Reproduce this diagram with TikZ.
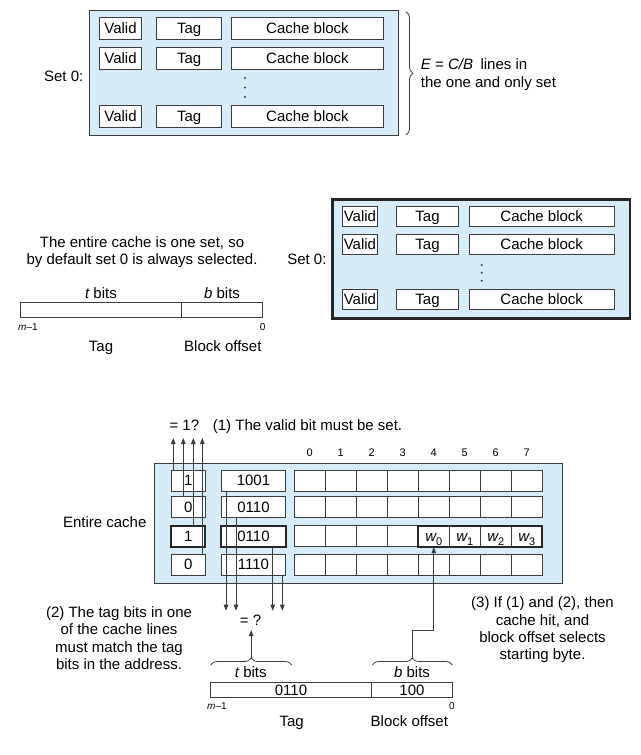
\documentclass[tikz,border=0pt]{standalone}
\usepackage{fontspec}
\setmainfont{Liberation Sans}
\usetikzlibrary{arrows.meta,decorations.pathreplacing}
\definecolor{cachebg}{RGB}{214,236,249}
\definecolor{linec}{RGB}{60,60,60}
\begin{document}
\begin{tikzpicture}[x=1bp,y=-1bp,
  txt/.style={font=\fontsize{15bp}{17.4bp}\selectfont, inner sep=0pt},
  lbl/.style={txt, text height=10.7bp, text depth=0pt},
  smalltxt/.style={font=\fontsize{10bp}{12bp}\selectfont, inner sep=0pt, text height=7.2bp, text depth=0pt},
  coltxt/.style={font=\fontsize{11bp}{13bp}\selectfont, inner sep=0pt, text height=7.9bp, text depth=0pt},
  cellbox/.style={draw=linec, line width=0.9bp, fill=white, inner sep=0pt,
    font=\fontsize{15bp}{17bp}\selectfont, text height=10.7bp, text depth=0pt},
  thickbox/.style={cellbox, line width=2bp, draw=black!85},
  panel/.style={fill=cachebg, draw=linec, line width=1bp, inner sep=0pt},
  arr/.style={draw=linec, line width=0.9bp, -{Triangle[length=6bp,width=4.5bp]}},
  bracestyle/.style={draw=linec, line width=0.8bp, decorate, decoration={brace, amplitude=7bp}},
  dotmark/.style={circle, fill=linec, inner sep=0pt, minimum size=2.2bp},
]
\useasboundingbox (0,0) rectangle (641,755);

% ================= Top panel =================
\node[panel, minimum width=308bp, minimum height=124bp] (topset) at (244,73) {};
\foreach \r/\y in {1/28.5,2/58.5,3/116.5}{
  \node[cellbox, minimum width=42.4bp, minimum height=21.6bp] (tv\r) at (120.5,\y) {Valid};
  \node[cellbox, minimum width=65bp, minimum height=21.6bp] (tg\r) at (189.2,\y) {Tag};
  \node[cellbox, minimum width=151.6bp, minimum height=21.6bp] (tc\r) at (307.5,\y) {Cache block};
}
\node[dotmark] (tdot1) at (245,78) {};
\node[dotmark] (tdot2) at (245,87.5) {};
\node[dotmark] (tdot3) at (245,97) {};
\node[lbl, anchor=east] (tset) at (83.5,76) {Set 0:};
\draw[bracestyle] (406,11.7) -- (406,135);
\node[txt, anchor=west, align=left] (etext) at (420.7,74.5)
  {{\itshape E} = {\itshape C/B}\enspace lines in\\the one and only set};

% ================= Middle panel =================
\node[txt, align=center] (entire) at (142,252) {The entire cache is one set, so\\by default set 0 is always selected.};
\node[lbl] (tbits1) at (101,292.7) {{\itshape t} bits};
\node[lbl] (bbits1) at (222,292.7) {{\itshape b} bits};
\node[draw=linec, line width=0.8bp, minimum width=161bp, minimum height=15bp, inner sep=0pt] (atag1) at (101.2,310.2) {};
\node[draw=linec, line width=0.8bp, minimum width=80.6bp, minimum height=15bp, inner sep=0pt] (aoff1) at (222,310.2) {};
\node[smalltxt, anchor=west] (mone1) at (18,326.7) {{\itshape m}--1};
\node[smalltxt] (zero1) at (262.7,326.7) {0};
\node[lbl] (tagl1) at (101,345.7) {Tag};
\node[lbl] (offl1) at (222.8,345.7) {Block offset};
\node[lbl, anchor=east] (mset) at (326.7,259.3) {Set 0:};
\node[panel, draw=black!85, line width=2.5bp, minimum width=297.7bp, minimum height=119bp] (midset) at (481.2,258.8) {};
\foreach \r/\y in {1/216,2/244.3,3/299.3}{
  \node[cellbox, minimum width=35.7bp, minimum height=20bp] (mv\r) at (359.9,\y) {Valid};
  \node[cellbox, minimum width=61.6bp, minimum height=20bp] (mg\r) at (427.5,\y) {Tag};
  \node[cellbox, minimum width=145.3bp, minimum height=20bp] (mc\r) at (541.7,\y) {Cache block};
}
\node[dotmark] (mdot1) at (481.7,265) {};
\node[dotmark] (mdot2) at (481.7,272.7) {};
\node[dotmark] (mdot3) at (481.7,280.7) {};

% ================= Bottom panel =================
\node[lbl, anchor=west] (eq1) at (169.3,425) {= 1?};
\node[lbl, anchor=west] (step1) at (212.7,425) {(1) The valid bit must be set.};
\foreach \i in {0,...,7}{
  \node[coltxt] (col\i) at ({309.8+31*\i},453) {\i};
}
\node[panel, minimum width=408bp, minimum height=119.8bp] (bigset) at (358.3,523.4) {};
\node[lbl] (entcache) at (104.7,522) {Entire cache};
\foreach \r/\y/\v/\t in {1/480.5/1/1001,2/507.2/0/0110,4/564.5/0/1110}{
  \node[cellbox, minimum width=34.3bp, minimum height=21bp] (v\r) at (188.2,\y) {\v};
  \node[cellbox, minimum width=64.4bp, minimum height=21bp] (t\r) at (253.5,\y) {\t};
}
\node[thickbox, minimum width=34.3bp, minimum height=21bp] (v3) at (188.2,536.2) {1};
\node[thickbox, minimum width=64.4bp, minimum height=21bp] (t3) at (253.5,536.2) {0110};
\foreach \r/\y in {1/480.5,2/507.2,3/536.2,4/564.5}{
  \foreach \i in {0,...,7}{
    \node[cellbox, minimum width=31bp, minimum height=21bp] (c\r\i) at ({309.8+31*\i},\y) {};
  }
}
\node[cellbox, minimum width=31bp, minimum height=21bp] (w0) at (433.8,536.2) {{\itshape w}\raisebox{-3.5bp}{\fontsize{11bp}{11bp}\selectfont 0}};
\node[cellbox, minimum width=31bp, minimum height=21bp] (w1) at (464.8,536.2) {{\itshape w}\raisebox{-3.5bp}{\fontsize{11bp}{11bp}\selectfont 1}};
\node[cellbox, minimum width=31bp, minimum height=21bp] (w2) at (495.8,536.2) {{\itshape w}\raisebox{-3.5bp}{\fontsize{11bp}{11bp}\selectfont 2}};
\node[cellbox, minimum width=31bp, minimum height=21bp] (w3) at (526.8,536.2) {{\itshape w}\raisebox{-3.5bp}{\fontsize{11bp}{11bp}\selectfont 3}};
\node[draw=black!85, line width=2bp, minimum width=124bp, minimum height=21bp, inner sep=0pt] (wgroup) at (480.3,536.2) {};

% valid-bit arrows
\coordinate (vt1) at (173.3,438);
\coordinate (vt2) at (183.3,438);
\coordinate (vt3) at (193.3,438);
\coordinate (vt4) at (202.3,438);
\foreach \r in {1,...,4}{
  \draw[arr] (v\r.north -| vt\r) -- (vt\r);
}
% tag arrows
\coordinate (tt1) at (226,610.7);
\coordinate (tt2) at (236,610.7);
\coordinate (tt3) at (272.7,610.7);
\coordinate (tt4) at (282.3,610.7);
\foreach \r in {1,...,4}{
  \draw[arr] (t\r.south -| tt\r) -- (tt\r);
}
\node[lbl] (eqq) at (250.5,620) {= ?};

% address
\draw[bracestyle] (210.7,665) -- (291.7,665);
\draw[bracestyle] (372.3,665) -- (452.3,665);
\coordinate (tbtip) at (251.2,658);
\coordinate (eqqtip) at (251.2,630);
\draw[arr] (tbtip) -- (eqqtip);
\coordinate (bbtip) at (412.3,658);
\coordinate (bend) at (412.3,630);
\draw[arr] (bbtip) -- (bend) -| (w0.south);
\node[lbl] (tbits2) at (250.8,671.7) {{\itshape t} bits};
\node[lbl] (bbits2) at (412,671.7) {{\itshape b} bits};
\node[draw=linec, line width=0.8bp, minimum width=161.4bp, minimum height=15bp, inner sep=0pt,
  font=\fontsize{15bp}{17bp}\selectfont, text height=10.7bp, text depth=0pt] (atag2) at (291,689.8) {0110};
\node[draw=linec, line width=0.8bp, minimum width=80.6bp, minimum height=15bp, inner sep=0pt,
  font=\fontsize{15bp}{17bp}\selectfont, text height=10.7bp, text depth=0pt] (aoff2) at (412,689.8) {100};
\node[smalltxt, anchor=west] (mone2) at (207,706) {{\itshape m}--1};
\node[smalltxt] (zero2) at (452,706) {0};
\node[lbl] (tagl2) at (291.7,720.7) {Tag};
\node[lbl] (offl2) at (409.3,720.7) {Block offset};

\node[txt, align=center] (step2) at (119,638) {(2) The tag bits in one\\of the cache lines\\must match the tag\\bits in the address.};
\node[txt, align=center] (step3) at (542.5,630) {(3) If (1) and (2), then\\cache hit, and\\block offset selects\\starting byte.};
\end{tikzpicture}
\end{document}
